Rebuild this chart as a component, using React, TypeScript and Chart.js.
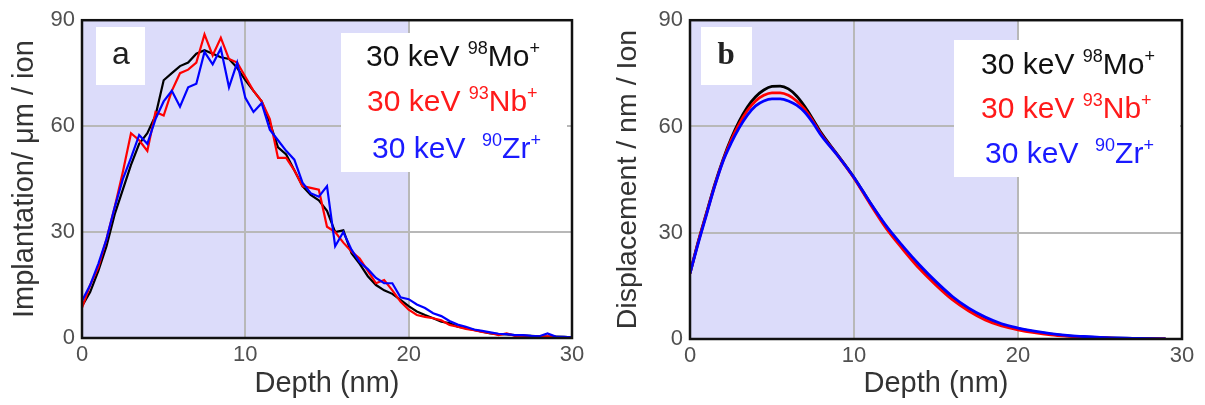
import React, { useEffect, useRef } from 'react';
import { Chart, registerables } from 'chart.js';

Chart.register(...registerables);

// ---------- DATA ----------
const depthA = [
  0, 0.5, 1, 1.5, 2, 2.5, 3, 3.5, 4, 4.5,
  5, 5.5, 6, 6.5, 7, 7.5, 8, 8.5, 9, 9.5,
  10, 10.5, 11, 11.5, 12, 12.5, 13, 13.5, 14, 14.5,
  15, 15.5, 16, 16.5, 17, 17.5, 18, 18.5, 19, 19.5,
  20, 20.5, 21, 21.5, 22, 22.5, 23, 23.5, 24, 24.5,
  25, 25.5, 26, 26.5, 27, 27.5, 28, 28.5, 29, 29.5, 30,
];
const implMo = [
  9, 13, 19, 26, 35, 42, 49, 55, 58, 63,
  73, 75, 77, 78, 80.5, 81.5, 80.5, 79.5, 79, 76.5,
  73, 70, 67, 61, 54, 52, 47.5, 43, 40.5, 39,
  36, 30, 30.5, 24, 21, 17.5, 15, 13.5, 12.5, 10.8,
  9, 7.5, 6.5, 5.6, 4.6, 4.2, 3.2, 2.8, 2.3, 1.8,
  1.3, 1.1, 1.0, 0.8, 0.7, 0.6, 0.5, 0.4, 0.4, 0.3, 0.2,
];
const implNb = [
  8.5, 15, 20, 28, 37, 47, 58, 56, 53, 64,
  63, 70, 75, 76, 78, 86, 80, 85, 79, 78,
  74, 70, 67, 62, 51, 51, 47.5, 43, 42.5, 42,
  31.5, 30, 27, 24.5, 22.5, 19, 15.5, 16.4, 13.5, 10.3,
  8, 6.5, 6, 5.6, 5, 3.7, 3.2, 2.6, 2.2, 1.7,
  1.4, 0.8, 1.3, 0.6, 0.7, 0.5, 0.4, 0.5, 0.3, 0.2, 0.1,
];
const implZr = [
  10.5, 15, 21, 28, 37, 45, 51, 57.5, 55, 62,
  67, 70, 65.5, 71, 72, 81, 77.5, 82, 71, 78,
  68, 64, 66.5, 59, 56, 53, 50.5, 44, 41, 40,
  43, 26, 30, 25, 21.5, 19.5, 17, 15.5, 15.5, 11.5,
  11, 9.5, 8.5, 7, 6.2, 4.8, 3.8, 3.2, 2.4, 2.0,
  1.6, 1.2, 1.1, 0.8, 0.8, 0.6, 0.5, 1.3, 0.4, 0.3, 0.2,
];

const depthB = [
  0, 0.5, 1, 1.5, 2, 2.5, 3, 3.5, 4, 4.5,
  5, 5.5, 6, 6.5, 7, 7.5, 8, 9, 10, 11,
  12, 13, 14, 15, 16, 17, 18, 19, 20, 21,
  22, 23, 24, 25, 26, 27, 28, 29,
];
const dispMo = [
  18.5, 27.5, 35.5, 43.5, 50.5, 56.5, 61.5, 65.5, 68.4, 70.3,
  71.3, 71.4, 70.6, 68.6, 65.6, 62, 58.2, 52, 45.6, 38.3,
  31.5, 25.8, 20.5, 15.8, 11.6, 8.3, 5.8, 4, 2.9, 2,
  1.4, 0.9, 0.6, 0.4, 0.25, 0.15, 0.1, 0.05,
];
const dispNb = [
  18.5, 27.3, 35.3, 43.2, 50.2, 56, 60.7, 64.5, 67.2, 68.8,
  69.5, 69.5, 68.8, 67.2, 64.8, 61.5, 57.8, 51.8, 45.4, 38,
  31, 25.2, 19.8, 15.2, 11.1, 7.9, 5.4, 3.7, 2.6, 1.8,
  1.2, 0.8, 0.5, 0.3, 0.2, 0.1, 0.05, 0.03,
];
const dispZr = [
  18.5, 27, 35, 43, 50, 55.2, 59.6, 63.2, 65.8, 67.2,
  67.8, 67.8, 67.2, 66, 64, 61, 57.5, 51.8, 45.6, 38.4,
  31.7, 26.1, 20.9, 16.2, 12, 8.7, 6.2, 4.3, 3.1, 2.2,
  1.5, 1, 0.7, 0.45, 0.3, 0.2, 0.1, 0.05,
];

const ionEnergy = '30 keV';
const ionMass = ['98', '93', '90'];
const ionSymbol = ['Mo', 'Nb', 'Zr'];
const xTickValues = [0, 10, 20, 30];
const yTickValues = [0, 30, 60, 90];

// ---------- STYLE ----------
const COLORS = ['#000000', '#ff0000', '#0000ff'];
const TEXT_COLORS = ['#111111', '#ff1a1a', '#1a1aff'];
const FONT = '"Liberation Sans", Arial, Helvetica, sans-serif';
const SHADE = '#dcdcfa';

type PanelCfg = {
  left: number;
  width: number;
  xs: number[];
  series: number[][];
  yTitle: string;
  yTitleSize: number;
  letter: string;
  letterFont: string;
  letterBox: [number, number, number, number];
  letterPos: [number, number];
  legendBox: [number, number, number, number];
  legendX: number[];
  legendY: number[];
  yAxisWidth: number;
  rightPad: number;
  bottomAxisH: number;
  yTitlePad: number;
  smooth: boolean;
  lineWidth: number;
};

function drawIon(ctx: CanvasRenderingContext2D, i: number, x: number, y: number, size: number) {
  ctx.save();
  ctx.fillStyle = TEXT_COLORS[i];
  ctx.textBaseline = 'middle';
  ctx.textAlign = 'left';
  const sup = Math.round(size * 0.6);
  const gap = i === 2 ? '  ' : ' ';
  ctx.font = `${size}px ${FONT}`;
  const t1 = ionEnergy + gap;
  ctx.fillText(t1, x, y);
  let cx = x + ctx.measureText(t1).width;
  ctx.font = `${sup}px ${FONT}`;
  ctx.fillText(ionMass[i], cx, y - size * 0.3);
  cx += ctx.measureText(ionMass[i]).width;
  ctx.font = `${size}px ${FONT}`;
  ctx.fillText(ionSymbol[i], cx, y);
  cx += ctx.measureText(ionSymbol[i]).width;
  ctx.font = `${sup}px ${FONT}`;
  ctx.fillText('+', cx, y - size * 0.3);
  ctx.restore();
}

function Panel({ cfg }: { cfg: PanelCfg }) {
  const ref = useRef<HTMLCanvasElement | null>(null);
  useEffect(() => {
    if (!ref.current) return;
    const decor = {
      id: 'decor',
      beforeDraw(chart: any) {
        const { ctx, chartArea } = chart;
        const x20 = chart.scales.x.getPixelForValue(20);
        ctx.save();
        ctx.fillStyle = SHADE;
        ctx.fillRect(chartArea.left, chartArea.top, x20 - chartArea.left, chartArea.bottom - chartArea.top);
        ctx.fillStyle = '#ffffff';
        ctx.fillRect(x20, chartArea.top, chartArea.right - x20, chartArea.bottom - chartArea.top);
        ctx.restore();
      },
      beforeDatasetsDraw(chart: any) {
        const { ctx } = chart;
        ctx.save();
        ctx.fillStyle = '#ffffff';
        const [lx, ly, lw, lh] = cfg.letterBox;
        ctx.fillRect(lx, ly, lw, lh);
        const [gx, gy, gw, gh] = cfg.legendBox;
        ctx.fillRect(gx, gy, gw, gh);
        ctx.fillStyle = '#222222';
        ctx.font = cfg.letterFont;
        ctx.textAlign = 'center';
        ctx.textBaseline = 'middle';
        ctx.fillText(cfg.letter, cfg.letterPos[0], cfg.letterPos[1]);
        ctx.restore();
        for (let i = 0; i < 3; i++) drawIon(ctx, i, cfg.legendX[i], cfg.legendY[i], 30);
      },
      afterDraw(chart: any) {
        const { ctx, chartArea } = chart;
        ctx.save();
        ctx.strokeStyle = '#111111';
        ctx.lineWidth = 2.5;
        ctx.strokeRect(chartArea.left, chartArea.top, chartArea.right - chartArea.left, chartArea.bottom - chartArea.top);
        ctx.restore();
      },
    };
    const datasets = cfg.series.map((s, i) => ({
      label: `${ionEnergy} ${ionMass[i]}${ionSymbol[i]}+`,
      data: cfg.xs.map((x, k) => ({ x, y: s[k] })),
      borderColor: COLORS[i],
      backgroundColor: COLORS[i],
      borderWidth: cfg.lineWidth,
      pointRadius: 0,
      tension: 0,
      cubicInterpolationMode: cfg.smooth ? ('monotone' as const) : ('default' as const),
      order: 2 - i,
      fill: false,
    }));
    const chart = new Chart(ref.current, {
      type: 'line',
      data: { datasets },
      plugins: [decor],
      options: {
        animation: false,
        responsive: false,
        maintainAspectRatio: false,
        layout: { padding: { top: 20, right: cfg.rightPad, left: 0, bottom: 0 } },
        plugins: { legend: { display: false }, tooltip: { enabled: false } },
        scales: {
          x: {
            type: 'linear',
            min: 0,
            max: 30,
            afterBuildTicks: (s: any) => { s.ticks = xTickValues.map((v) => ({ value: v })); },
            ticks: { font: { family: FONT, size: 22 }, color: '#505050', padding: 4, autoSkip: false, maxRotation: 0 },
            grid: { color: '#b8b8b8', lineWidth: 2, drawTicks: false },
            border: { display: false },
            title: { display: true, text: 'Depth (nm)', font: { family: FONT, size: 29 }, color: '#333333', padding: { top: 0, bottom: 4 } },
            afterFit: (s: any) => { s.height = cfg.bottomAxisH; },
          },
          y: {
            type: 'linear',
            min: 0,
            max: 90,
            afterBuildTicks: (s: any) => { s.ticks = yTickValues.map((v) => ({ value: v })); },
            ticks: { font: { family: FONT, size: 22 }, color: '#505050', padding: 7, autoSkip: false },
            grid: { color: '#b8b8b8', lineWidth: 2, drawTicks: false },
            border: { display: false },
            title: { display: true, text: cfg.yTitle, font: { family: FONT, size: cfg.yTitleSize }, color: '#333333', padding: { top: cfg.yTitlePad, bottom: 0 } },
            afterFit: (s: any) => { s.width = cfg.yAxisWidth; },
          },
        },
      },
    });
    return () => chart.destroy();
  }, [cfg]);
  return (
    <canvas
      ref={ref}
      width={cfg.width}
      height={405}
      style={{ position: 'absolute', left: cfg.left, top: 0, width: cfg.width, height: 405 }}
    />
  );
}

const panelA: PanelCfg = {
  left: 0,
  width: 600,
  xs: depthA,
  series: [implMo, implNb, implZr],
  yTitle: 'Implantation/ μm / ion',
  yTitleSize: 29,
  letter: 'a',
  letterFont: `32px ${FONT}`,
  letterBox: [96, 27, 49, 58],
  letterPos: [121, 55],
  legendBox: [341, 33, 226, 139],
  legendX: [366, 367, 372],
  legendY: [58, 103, 150],
  yAxisWidth: 82,
  rightPad: 28,
  bottomAxisH: 67,
  yTitlePad: 8,
  smooth: false,
  lineWidth: 2.2,
};

const panelB: PanelCfg = {
  left: 600,
  width: 605,
  xs: depthB,
  series: [dispMo, dispNb, dispZr],
  yTitle: 'Displacement / nm / Ion',
  yTitleSize: 28.5,
  letter: 'b',
  letterFont: `bold 31px "Liberation Serif", "Times New Roman", serif`,
  letterBox: [101, 27, 51, 58],
  letterPos: [126, 56],
  legendBox: [354, 40, 226, 137],
  legendX: [381, 381, 385],
  legendY: [66, 110, 155],
  yAxisWidth: 90,
  rightPad: 23,
  bottomAxisH: 66,
  yTitlePad: 11,
  smooth: true,
  lineWidth: 2.8,
};

export default function App() {
  return (
    <div style={{ position: 'absolute', left: 0, top: 0, width: 1205, height: 405, background: '#ffffff', overflow: 'hidden' }}>
      <Panel cfg={panelA} />
      <Panel cfg={panelB} />
    </div>
  );
}
